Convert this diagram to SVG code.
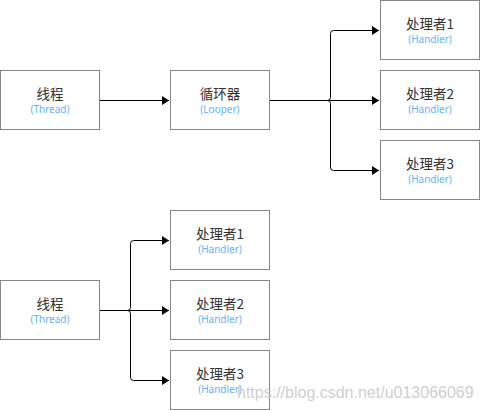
<svg xmlns="http://www.w3.org/2000/svg" width="480" height="410" viewBox="0 0 480 410">
<defs>
<marker id="arr" markerWidth="8" markerHeight="10" refX="7" refY="4.5" orient="auto" markerUnits="userSpaceOnUse">
<path d="M0,0 L7,4.5 L0,9 Z" fill="#000"/>
</marker>
<style>
.box{fill:#fff;stroke:#888;stroke-width:1}
.t{font-family:"Noto Sans CJK SC","Noto Sans",sans-serif;font-size:13.5px;fill:#333;text-anchor:middle}
.s{font-family:"Noto Sans","Noto Sans CJK SC",sans-serif;font-size:10px;fill:#66b2ff;text-anchor:middle}
.c{fill:none;stroke:#000;stroke-width:1}
.wm{font-family:"Liberation Sans",Arial,sans-serif;font-size:16px;fill:#c8c8c8;opacity:0.85}
</style>
</defs>
<rect width="480" height="410" fill="#fff"/>
<g id="connectors">
<path class="c" d="M100,100.5 H169" marker-end="url(#arr)"/>
<path class="c" d="M270,100.5 H327.5 Q330.5,100.5 330.5,97.5 V33.5 Q330.5,30.5 333.5,30.5 H379" marker-end="url(#arr)"/>
<path class="c" d="M270,100.5 H379" marker-end="url(#arr)"/>
<path class="c" d="M270,100.5 H327.5 Q330.5,100.5 330.5,103.5 V167.5 Q330.5,170.5 333.5,170.5 H379" marker-end="url(#arr)"/>
<path class="c" d="M100,310.5 H127.5 Q130.5,310.5 130.5,307.5 V243.5 Q130.5,240.5 133.5,240.5 H169" marker-end="url(#arr)"/>
<path class="c" d="M100,310.5 H169" marker-end="url(#arr)"/>
<path class="c" d="M100,310.5 H127.5 Q130.5,310.5 130.5,313.5 V377.5 Q130.5,380.5 133.5,380.5 H169" marker-end="url(#arr)"/>
</g>
<g id="thread1"><rect class="box" x="0.5" y="70.5" width="99" height="59"/><text class="t" x="50" y="99">线程</text><text class="s" x="50" y="113">(Thread)</text></g>
<g id="looper"><rect class="box" x="170.5" y="70.5" width="99" height="59"/><text class="t" x="220" y="99">循环器</text><text class="s" x="220" y="113">(Looper)</text></g>
<g id="handler1a"><rect class="box" x="380.5" y="0.5" width="99" height="59"/><text class="t" x="430" y="29">处理者1</text><text class="s" x="430" y="43">(Handler)</text></g>
<g id="handler2a"><rect class="box" x="380.5" y="70.5" width="99" height="59"/><text class="t" x="430" y="99">处理者2</text><text class="s" x="430" y="113">(Handler)</text></g>
<g id="handler3a"><rect class="box" x="380.5" y="140.5" width="99" height="59"/><text class="t" x="430" y="169">处理者3</text><text class="s" x="430" y="183">(Handler)</text></g>
<g id="thread2"><rect class="box" x="0.5" y="280.5" width="99" height="59"/><text class="t" x="50" y="309">线程</text><text class="s" x="50" y="323">(Thread)</text></g>
<g id="handler1b"><rect class="box" x="170.5" y="210.5" width="99" height="59"/><text class="t" x="220" y="239">处理者1</text><text class="s" x="220" y="253">(Handler)</text></g>
<g id="handler2b"><rect class="box" x="170.5" y="280.5" width="99" height="59"/><text class="t" x="220" y="309">处理者2</text><text class="s" x="220" y="323">(Handler)</text></g>
<g id="handler3b"><rect class="box" x="170.5" y="350.5" width="99" height="59"/><text class="t" x="220" y="379">处理者3</text><text class="s" x="220" y="393">(Handler)</text></g>
<text class="wm" x="237" y="398">https://blog.csdn.net/u013066069</text>
</svg>
